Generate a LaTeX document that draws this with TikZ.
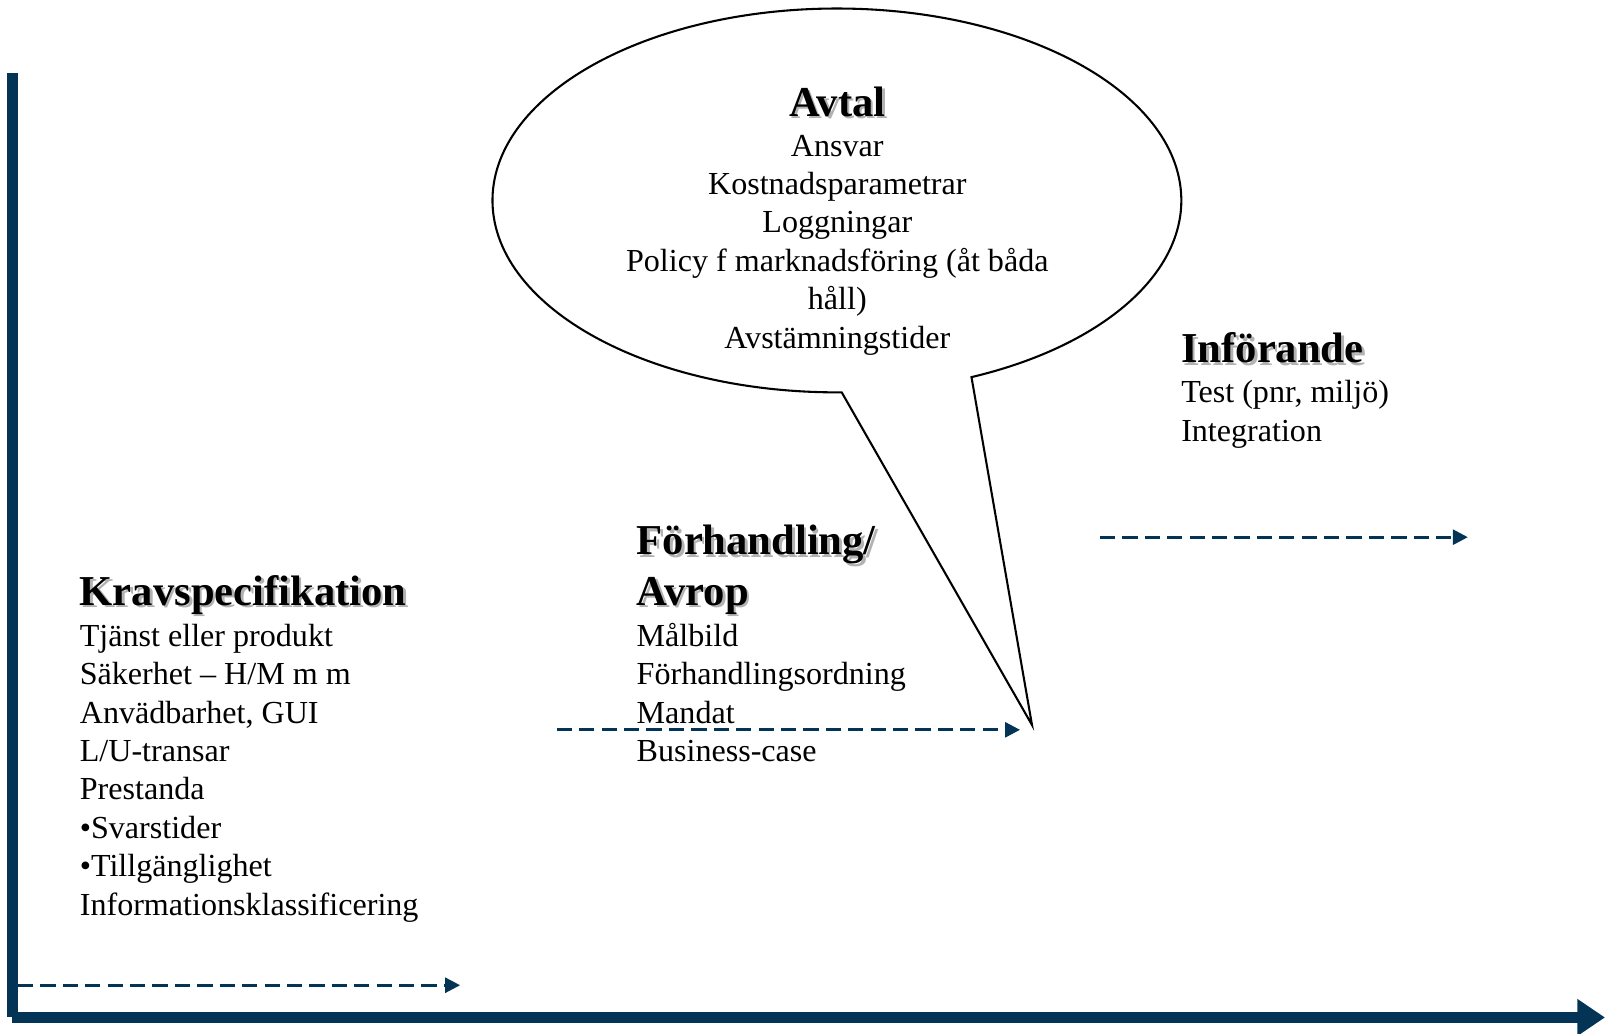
\documentclass[tikz,border=0pt]{standalone}
\usepackage{fontspec}
\setmainfont{Liberation Serif}
\usetikzlibrary{arrows.meta}
\definecolor{axisblue}{RGB}{3,52,86}
\newcommand{\shadowed}[1]{\leavevmode\rlap{\kern0.9pt\raisebox{-0.9pt}{\textcolor{black!30}{#1}}}#1}
\begin{document}
\begin{tikzpicture}
					[x=0.37pt, y=-0.37pt,
					every node/.style={inner sep=0pt, outer sep=0pt},
					head/.style={font=\bfseries\fontsize{15.4}{18.3}\selectfont, align=left, anchor=base west},
					body/.style={font=\fontsize{11.6}{13.87}\selectfont, align=left, anchor=base west},
					flow/.style={axisblue, line width=1pt, dash pattern=on 5.5pt off 2.6pt, -{Triangle[length=5.4pt,width=5.4pt]}},
					axis/.style={axisblue, line width=4.3pt},]
					\useasboundingbox (0,0) rectangle (1568,1009.2);
					% axes
					\draw[axis] (12.2,71.6) -- (12.2,994);
					\draw[axis, -{Triangle[length=10pt,width=12.7pt]}] (12.2,994) -- (1568,994);
					% callout
					\draw[line width=0.75pt, line join=miter] (822.3,383.3)
						arc[start angle=-89.2, end angle=-427.0, x radius=124.5pt, y radius=69.375pt]
						-- (1008.2,708.3) -- cycle;
					% texts (base = last line)
					\node[head] (krav) at (78,591.5) {\shadowed{Kravspecifikation}};
					\node[body] (kravtxt) at (78,894) {Tjänst eller produkt\\Säkerhet – H/M m m\\Anvädbarhet, GUI\\L/U-transar\\Prestanda\\•Svarstider\\•Tillgänglighet\\Informationsklassificering};
					\node[head] (forh) at (622,591.5) {\shadowed{Förhandling/}\\\shadowed{Avrop}};
					\node[body] (forhtxt) at (622,744) {Målbild\\Förhandlingsordning\\Mandat\\Business-case};
					\node[head, anchor=base] (avtal) at (818,113.5) {\shadowed{Avtal}};
					\node[body, align=center, anchor=base] (avtaltxt) at (818,340) {Ansvar\\Kostnadsparametrar\\Loggningar\\Policy f marknadsföring (åt båda\\håll)\\Avstämningstider};
					\node[head] (inf) at (1154,354.5) {\shadowed{Införande}};
					\node[body] (inftxt) at (1154,431) {Test (pnr, miljö)\\Integration};
					% flows
					\coordinate (k-start) at (17.6,962.5);
					\coordinate (k-end) at (449.5,962.5);
					\coordinate (f-start) at (544,713);
					\coordinate (f-end) at (996.5,713);
					\coordinate (i-start) at (1074.6,524.8);
					\coordinate (i-end) at (1434,524.8);
					\draw[flow] (k-start) -- (k-end);
					\draw[flow] (f-start) -- (f-end);
					\draw[flow] (i-start) -- (i-end);
				\end{tikzpicture}
\end{document}
